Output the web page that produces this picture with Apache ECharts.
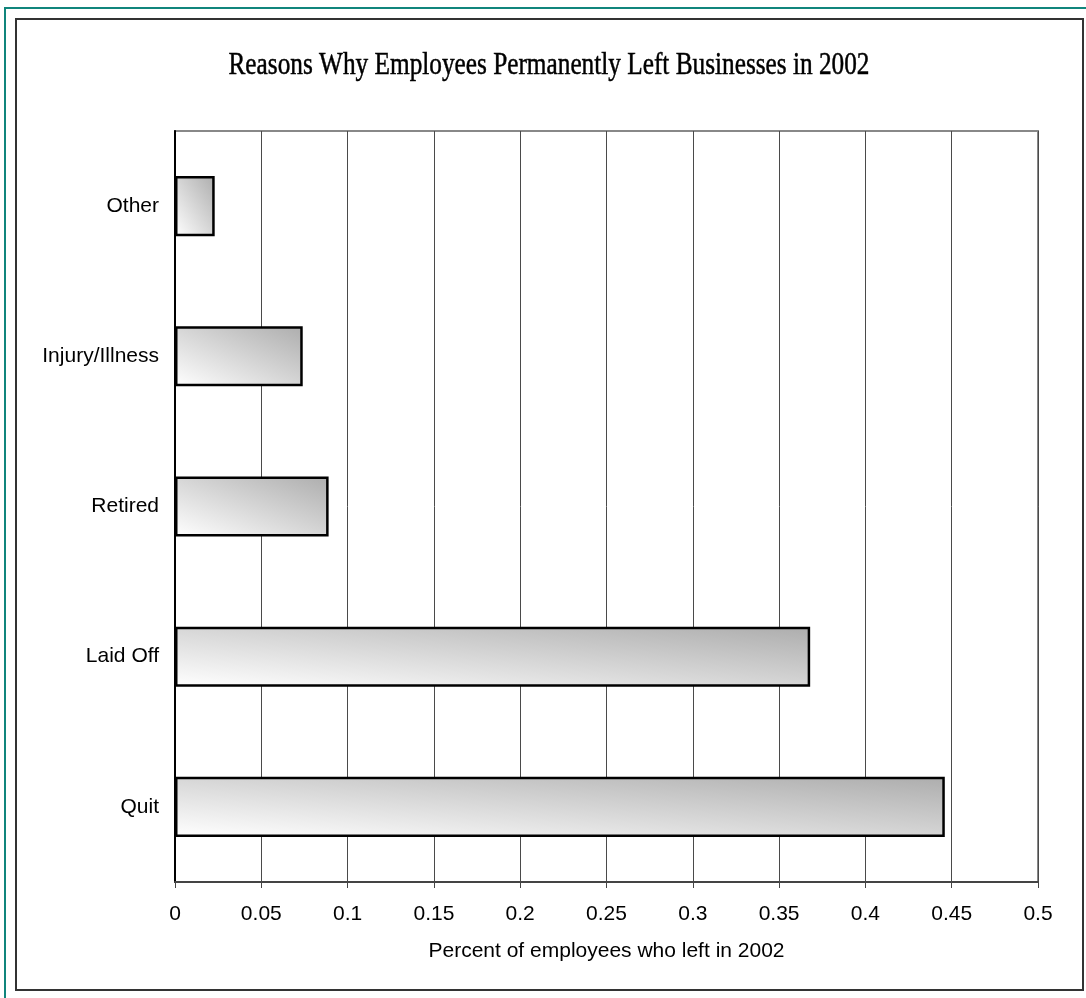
<!DOCTYPE html>
<html>
<head>
<meta charset="utf-8">
<script src="https://cdn.jsdelivr.net/npm/echarts@6/dist/echarts.min.js"></script>
<style>
  html, body { margin: 0; padding: 0; background: #fff; }
  #chart { width: 1086px; height: 998px; }
</style>
</head>
<body>
<div id="chart"></div>
<script>
// Reasons employees left, share of all departures in 2002
const categories = ['Other', 'Injury/Illness', 'Retired', 'Laid Off', 'Quit'];
const shares = [0.023, 0.074, 0.089, 0.368, 0.446];
const titleText = 'Reasons Why Employees Permanently Left Businesses in 2002';
const axisTitle = 'Percent of employees who left in 2002';

const chart = echarts.init(document.getElementById('chart'), null, { renderer: 'canvas' });

const BAR_GAP = 0.6; // fraction of each category band left empty
const SANS = 'Liberation Sans, Arial, sans-serif';

const option = {
  animation: false,
  backgroundColor: '#ffffff',
  graphic: [
    { type: 'rect', silent: true, z: 0,
      shape: { x: 5, y: 8, width: 1200, height: 1200 },
      style: { fill: 'none', stroke: '#10857c', lineWidth: 2 } },
    { type: 'rect', silent: true, z: 0,
      shape: { x: 16, y: 19, width: 1067, height: 971 },
      style: { fill: 'none', stroke: '#333333', lineWidth: 2 } },
    { type: 'text', silent: true, z: 10,
      x: 549, y: 66, scaleX: 0.79,
      style: { text: titleText, fill: '#000', stroke: '#000', lineWidth: 0.5,
               textAlign: 'center', textVerticalAlign: 'middle',
               font: '32px "Liberation Serif", "DejaVu Serif", serif' } }
  ],
  grid: {
    left: 175, top: 131, right: 48, bottom: 116,
    show: true, borderColor: '#888888', borderWidth: 2, backgroundColor: 'transparent'
  },
  xAxis: {
    type: 'value', min: 0, max: 0.5, interval: 0.05,
    name: axisTitle, nameLocation: 'middle', nameGap: 59,
    nameTextStyle: { fontSize: 21, color: '#000', fontFamily: SANS },
    axisLine: { show: true, onZero: false, lineStyle: { color: '#444', width: 2 } },
    axisTick: { show: true, length: 6, lineStyle: { color: '#444', width: 1 } },
    axisLabel: { fontSize: 21, color: '#000', margin: 22, fontFamily: SANS },
    splitLine: { show: true, lineStyle: { color: '#4a4a4a', width: 1 } }
  },
  yAxis: {
    type: 'category', data: categories, inverse: true,
    axisLine: { show: true, lineStyle: { color: '#000', width: 2 } },
    axisTick: { show: false },
    axisLabel: { fontSize: 21, color: '#000', margin: 16, fontFamily: SANS, padding: [3, 0, 0, 0] },
    splitLine: { show: false }
  },
  series: [{
    type: 'bar',
    data: shares,
    barCategoryGap: (BAR_GAP * 100) + '%',
    itemStyle: { color: '#d0d0d0', borderColor: '#000', borderWidth: 2.5 }
  }]
};
chart.setOption(option);

// Diagonal shading stretched to each bar's box: isolines run along the
// top-left/bottom-right diagonal, light at bottom-left, dark at top-right.
function diagonalShade(w, h) {
  const L2 = w * w + h * h;
  return new echarts.graphic.LinearGradient(0, 1, 2 * h * h / L2, 1 - 2 * w * w / L2, [
    { offset: 0, color: '#ffffff' },
    { offset: 1, color: '#adadad' }
  ]);
}

const x0 = chart.convertToPixel({ xAxisIndex: 0 }, 0);
const band = Math.abs(chart.convertToPixel({ yAxisIndex: 0 }, 1) - chart.convertToPixel({ yAxisIndex: 0 }, 0));
const barH = band * (1 - BAR_GAP);
chart.setOption({
  series: [{
    data: shares.map(v => ({
      value: v,
      itemStyle: { color: diagonalShade(Math.max(1, chart.convertToPixel({ xAxisIndex: 0 }, v) - x0), barH) }
    }))
  }]
});
</script>
</body>
</html>
